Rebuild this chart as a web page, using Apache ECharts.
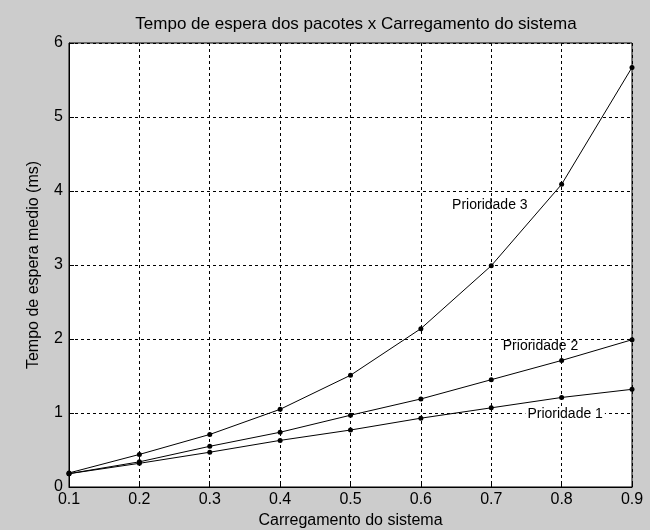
<!DOCTYPE html>
<html><head><meta charset="utf-8">
<script src="https://cdn.jsdelivr.net/npm/echarts@6/dist/echarts.min.js"></script>
<style>html,body{margin:0;padding:0;background:#cccccc}#c{width:650px;height:530px}</style>
</head><body><div id="c"></div>
<script>
const carga = [0.1, 0.2, 0.3, 0.4, 0.5, 0.6, 0.7, 0.8, 0.9];
const prioridade1 = [0.18, 0.32, 0.47, 0.63, 0.77, 0.93, 1.07, 1.21, 1.32];
const prioridade2 = [0.18, 0.34, 0.55, 0.74, 0.97, 1.19, 1.45, 1.71, 1.99];
const prioridade3 = [0.19, 0.44, 0.71, 1.05, 1.51, 2.14, 2.99, 4.09, 5.67];
const seriesNames = ['Prioridade 1', 'Prioridade 2', 'Prioridade 3'];
const labelPos = [[0.805, 0.98], [0.77, 1.91], [0.698, 3.81]];
const xTicks = ['0.1','0.2','0.3','0.4','0.5','0.6','0.7','0.8','0.9'];

const font = '"Liberation Sans", Arial, sans-serif';
const chart = echarts.init(document.getElementById('c'));
const allData = [prioridade1, prioridade2, prioridade3];
chart.setOption({
  backgroundColor: '#cccccc',
  animation: false,
  title: {
    text: 'Tempo de espera dos pacotes x Carregamento do sistema',
    left: 351, top: 11, textAlign: 'center',
    textStyle: { fontFamily: font, fontSize: 17, fontWeight: 'normal', color: '#000' }
  },
  grid: { left: 69, right: 18, top: 43, bottom: 43, containLabel: false, outerBoundsMode: 'none',
    show: true, backgroundColor: '#fff', borderColor: '#000', borderWidth: 1 },
  xAxis: {
    type: 'value', min: 0.1, max: 0.9, interval: 0.1,
    name: 'Carregamento do sistema', nameLocation: 'middle', nameGap: 26,
    nameTextStyle: { fontFamily: font, fontSize: 16, color: '#000' },
    axisLine: { show: true, lineStyle: { color: '#000' } },
    axisTick: { show: true, inside: true, length: 5, lineStyle: { color: '#000' } },
    axisLabel: { color: '#000', fontFamily: font, fontSize: 16, margin: 5,
      formatter: v => xTicks[Math.round((v - 0.1) * 10)] },
    splitLine: { show: true, lineStyle: { color: '#000', type: [3, 3], width: 1 } }
  },
  yAxis: {
    type: 'value', min: 0, max: 6, interval: 1,
    name: 'Tempo de espera medio (ms)', nameLocation: 'middle', nameGap: 27,
    nameTextStyle: { fontFamily: font, fontSize: 16, color: '#000' },
    axisLine: { show: true, lineStyle: { color: '#000' } },
    axisTick: { show: true, inside: true, length: 5, lineStyle: { color: '#000' } },
    axisLabel: { color: '#000', fontFamily: font, fontSize: 16, margin: 6 },
    splitLine: { show: true, lineStyle: { color: '#000', type: [3, 3], width: 1 } }
  },
  series: allData.map((d, i) => ({
    name: seriesNames[i],
    type: 'line',
    data: d.map((v, j) => [carga[j], v]),
    symbol: 'circle', symbolSize: 5,
    itemStyle: { color: '#000' },
    lineStyle: { color: '#000', width: 1 },
    z: 3,
    markPoint: {
      symbol: 'rect', symbolSize: 0,
      data: [{ coord: labelPos[i], value: seriesNames[i] }],
      label: { show: true, formatter: seriesNames[i], color: '#000', fontFamily: font, fontSize: 14,
        backgroundColor: i === 0 ? '#fff' : 'transparent', padding: [0, 2] }
    }
  }))
});
</script></body></html>
